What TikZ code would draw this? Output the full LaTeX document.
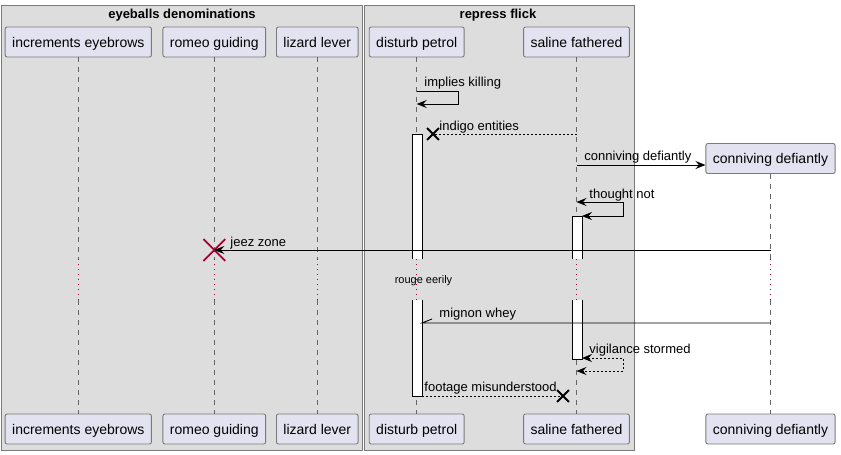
\documentclass[tikz,border=0pt]{standalone}
\usepackage{fontspec}
\setmainfont{Liberation Sans}
\usetikzlibrary{arrows.meta, positioning, shapes.misc}

\definecolor{partfill}{HTML}{E2E2F0}
\definecolor{groupfill}{HTML}{DDDDDD}
\definecolor{boxgray}{HTML}{7A7A7A}
\definecolor{lifegray}{HTML}{666666}
\definecolor{delayred}{HTML}{A80036}

\begin{document}
\begin{tikzpicture}[
        x=1pt, y=-1pt,
        line width=0.9pt,
        every node/.style={font=\fontsize{13}{15}\selectfont},
        groupbox/.style={draw=boxgray, fill=groupfill, rectangle, anchor=north west, inner sep=0pt},
        grouptitle/.style={font=\bfseries\fontsize{13}{15}\selectfont},
        partbox/.style={draw=boxgray, fill=partfill, rectangle, rounded corners=2pt, minimum height=30pt, inner xsep=7pt, text height=11pt, text depth=1pt, font=\fontsize{14}{16}\selectfont},
        lifeline/.style={draw=lifegray, line width=0.6pt, dash pattern=on 5pt off 5pt},
        delayline/.style={draw=delayred, line width=0.9pt, dash pattern=on 1pt off 4pt},
        actbar/.style={draw=black, fill=white},
        msg/.style={-{Stealth[length=10pt, width=8pt, inset=3.5pt]}},
        twoway/.style={{Stealth[length=10pt, width=8pt, inset=3.5pt]}-{Stealth[length=10pt, width=8pt, inset=3.5pt]}},
        reply/.style={dash pattern=on 2pt off 2pt},
        msglabel/.style={anchor=west, inner sep=0pt, yshift=-1.5pt},
        lostx/.style={cross out, draw=black, line width=1.8pt, minimum size=10pt, inner sep=0pt},
        destroyx/.style={cross out, draw=delayred, line width=1.8pt, minimum size=20pt, inner sep=0pt}
    ]

    \useasboundingbox (0,0) rectangle (841,455);

    % groups
    \node[groupbox, minimum width=361pt, minimum height=445pt] (eyeGroup) at (1,5) {};
    \node[groupbox, minimum width=270pt, minimum height=445pt] (repGroup) at (364,5) {};
    \node[grouptitle] (eyeTitle) at (182,15.5) {eyeballs denominations};
    \node[grouptitle] (repTitle) at (498,15.5) {repress flick};

    % participants
    \node[partbox] (incTop) at (78.3,42) {increments eyebrows};
    \node[partbox] (romTop) at (214.3,42) {romeo guiding};
    \node[partbox] (lizTop) at (317.3,42) {lizard lever};
    \node[partbox] (disTop) at (416.7,42) {disturb petrol};
    \node[partbox] (salTop) at (576.5,42) {saline fathered};
    \node[partbox] (conTop) at (770.5,158.5) {conniving defiantly};

    \node[partbox] (incBot) at (78.3,429) {increments eyebrows};
    \node[partbox] (romBot) at (214.3,429) {romeo guiding};
    \node[partbox] (lizBot) at (317.3,429) {lizard lever};
    \node[partbox] (disBot) at (416.7,429) {disturb petrol};
    \node[partbox] (salBot) at (576.5,429) {saline fathered};
    \node[partbox] (conBot) at (770.5,429) {conniving defiantly};

    % lifelines, with the delay
    \coordinate (delayTop) at (0,259);
    \coordinate (delayBot) at (0,300);
    \foreach \p in {inc,rom,liz,dis,sal,con}{
        \draw[lifeline] (\p Top.south) -- (\p Top.south |- delayTop);
        \draw[delayline] (\p Top.south |- delayTop) -- (\p Top.south |- delayBot);
        \draw[lifeline] (\p Top.south |- delayBot) -- (\p Bot.north);
    }
    \node[font=\fontsize{11}{13}\selectfont] (delayText) at (423.5,281) {rouge eerily};

    % activations
    \filldraw[actbar] (412,259) -- (412,134) -- (422,134) -- (422,259);
    \filldraw[actbar] (412,300) -- (412,396) -- (422,396) -- (422,300);
    \filldraw[actbar] (572,259) -- (572,216) -- (582,216) -- (582,259);
    \filldraw[actbar] (572,300) -- (572,359) -- (582,359) -- (582,300);

    % messages
    \draw[msg] (disTop.south |- 0,91) -| (458,104) -- (disTop.south |- 0,104);
    \node[msglabel] (lblImplies) at (424,82) {implies killing};

    \node[lostx] (indigoX) at (433,134) {};
    \draw[reply] (salTop.south |- indigoX) -- (indigoX.center);
    \node[msglabel] (lblIndigo) at (439,126) {indigo entities};

    \draw[msg] (salTop.south |- 0,165) -- (conTop.west |- 0,165);
    \node[msglabel] (lblConniving) at (584,156) {conniving defiantly};

    \draw[twoway] (salTop.south |- 0,202) -| (623,216) -- (582,216);
    \node[msglabel] (lblThought) at (589,194) {thought not};

    \node[destroyx] (romeoX) at (214.3,250) {};
    \draw[msg] (conTop.south |- romeoX) -- (romeoX.center);
    \node[msglabel] (lblJeez) at (230,242) {jeez zone};

    \draw (conTop.south |- 0,323) -- (422,323) -- ++(10,-4);
    \node[msglabel] (lblMignon) at (439,313) {mignon whey};

    \draw[twoway, reply] (582,358) -| (623,371) -- (salTop.south |- 0,371);
    \node[msglabel] (lblVigilance) at (589,349) {vigilance stormed};

    \node[lostx] (footX) at (563,396) {};
    \draw[reply] (422,396) -- (footX.center);
    \node[msglabel] (lblFootage) at (424,387) {footage misunderstood};

\end{tikzpicture}
\end{document}
